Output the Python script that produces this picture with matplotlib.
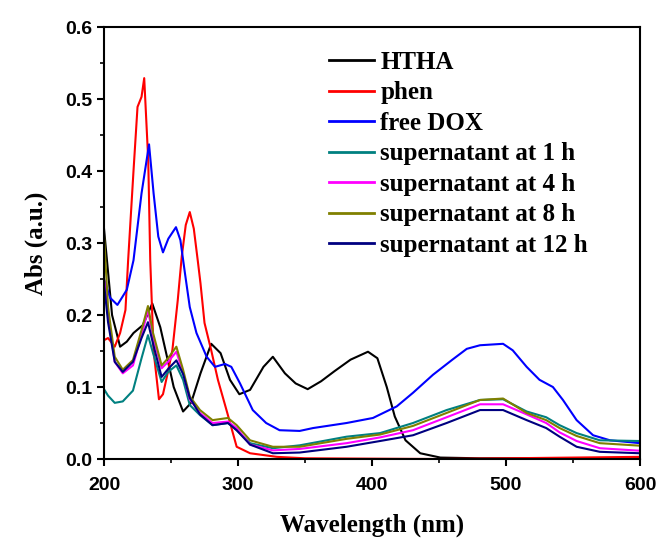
import matplotlib.pyplot as plt
from matplotlib.ticker import MultipleLocator

# values
htha_x = [200, 202, 206, 212, 217, 222, 229, 236, 242, 247, 252, 259, 265, 272, 280, 287, 294,
          301, 309, 319, 326, 335, 343, 352, 362, 372, 384, 397, 404, 411, 417, 425, 436, 451, 480, 600]
htha_y = [0.32, 0.28, 0.20, 0.156, 0.163, 0.175, 0.186, 0.216, 0.183, 0.142, 0.10, 0.066, 0.078, 0.119,
          0.160, 0.147, 0.110, 0.090, 0.096, 0.128, 0.142, 0.119, 0.105, 0.097, 0.108, 0.122, 0.138,
          0.149, 0.140, 0.100, 0.059, 0.026, 0.008, 0.002, 0.001, 0.001]

phen_x = [200, 203, 208, 212, 216, 218, 222, 225, 228, 230, 233, 234.5, 237, 241, 244, 247, 251, 255,
          258, 261, 264, 267, 270, 272, 275, 280, 285, 292, 299, 309, 329, 350, 450, 600]
phen_y = [0.165, 0.168, 0.156, 0.175, 0.207, 0.276, 0.40, 0.489, 0.503, 0.529, 0.415, 0.276, 0.15,
          0.083, 0.09, 0.115, 0.151, 0.22, 0.281, 0.325, 0.343, 0.32, 0.275, 0.244, 0.189, 0.151, 0.11,
          0.064, 0.017, 0.008, 0.003, 0.001, 0.0, 0.003]

dox_x = [200, 204.5, 210, 217, 222, 228, 233.6, 237, 240.5, 244, 248, 253.7, 257, 260.4, 264, 269, 276.6,
         282.8, 290.3, 295, 301.5, 311, 321, 331, 346, 356, 381, 400.7, 418.4, 430.6, 445.5, 460, 470.7,
         480.6, 497.8, 505, 515.4, 525, 535, 542.5, 552.7, 565, 577.6, 600]
dox_y = [0.25, 0.224, 0.214, 0.235, 0.276, 0.369, 0.437, 0.369, 0.309, 0.287, 0.306, 0.322, 0.304, 0.258,
         0.211, 0.175, 0.142, 0.128, 0.132, 0.128, 0.105, 0.068, 0.050, 0.040, 0.039, 0.043, 0.050, 0.057,
         0.073, 0.092, 0.117, 0.138, 0.153, 0.158, 0.160, 0.151, 0.128, 0.110, 0.100, 0.082, 0.054, 0.033,
         0.026, 0.022]

sup_x = [200, 203, 208, 214, 221.6, 228, 232.8, 236.6, 243, 247.8, 254, 259, 264, 271.6, 281, 292.5, 299,
         309, 326, 346, 381, 406, 430.6, 455.7, 480.6, 497.8, 515.4, 530, 540, 552.7, 570, 600]
sup1_y = [0.097, 0.088, 0.078, 0.080, 0.095, 0.140, 0.172, 0.147, 0.107, 0.121, 0.130, 0.110, 0.075, 0.061,
          0.047, 0.050, 0.040, 0.022, 0.015, 0.019, 0.031, 0.036, 0.050, 0.068, 0.082, 0.083, 0.066, 0.058,
          0.047, 0.036, 0.026, 0.025]
sup4_y = [0.25, 0.20, 0.135, 0.119, 0.130, 0.172, 0.207, 0.170, 0.126, 0.135, 0.149, 0.120, 0.083, 0.064,
          0.050, 0.052, 0.043, 0.020, 0.012, 0.014, 0.022, 0.030, 0.040, 0.058, 0.076, 0.076, 0.062, 0.050,
          0.037, 0.025, 0.015, 0.0115]
sup8_y = [0.31, 0.211, 0.142, 0.124, 0.1375, 0.179, 0.2125, 0.175, 0.130, 0.140, 0.156, 0.124, 0.087,
          0.068, 0.054, 0.057, 0.047, 0.026, 0.017, 0.017, 0.028, 0.034, 0.046, 0.064, 0.082, 0.084, 0.064,
          0.054, 0.043, 0.032, 0.022, 0.0185]
sup12_y = [0.244, 0.19, 0.135, 0.121, 0.135, 0.168, 0.190, 0.160, 0.114, 0.125, 0.137, 0.118, 0.085, 0.062,
           0.047, 0.050, 0.040, 0.020, 0.008, 0.009, 0.017, 0.025, 0.033, 0.050, 0.068, 0.068, 0.054, 0.043,
           0.031, 0.017, 0.010, 0.008]

fig = plt.figure(figsize=(6.6, 5.39), dpi=100)
ax = fig.add_axes([0.1576, 0.1484, 0.8121, 0.8015])

ax.plot(htha_x, htha_y, color='black', lw=1.5, label='HTHA')
ax.plot(phen_x, phen_y, color='#ff0000', lw=1.5, label='phen')
ax.plot(dox_x, dox_y, color='#0000ff', lw=1.5, label='free DOX')
ax.plot(sup_x, sup1_y, color='#008080', lw=1.5, label='supernatant at 1 h')
ax.plot(sup_x, sup4_y, color='#ff00ff', lw=1.5, label='supernatant at 4 h')
ax.plot(sup_x, sup8_y, color='#808000', lw=1.5, label='supernatant at 8 h')
ax.plot(sup_x, sup12_y, color='#000080', lw=1.5, label='supernatant at 12 h')

ax.set_xlim(200, 600)
ax.set_ylim(0, 0.6)
ax.xaxis.set_major_locator(MultipleLocator(100))
ax.xaxis.set_minor_locator(MultipleLocator(50))
ax.yaxis.set_major_locator(MultipleLocator(0.1))
ax.yaxis.set_minor_locator(MultipleLocator(0.05))
ax.yaxis.set_major_formatter(plt.FormatStrFormatter('%.1f'))
ax.tick_params(which='major', direction='out', length=5, width=1.5)
ax.tick_params(which='minor', direction='out', length=3, width=1.2)
ax.tick_params(axis='x', which='major', pad=8)
for lab in ax.get_xticklabels() + ax.get_yticklabels():
    lab.set_fontfamily('Liberation Sans')
    lab.set_fontweight('bold')
    lab.set_fontsize(14)
for sp in ax.spines.values():
    sp.set_linewidth(1.5)

ax.set_xlabel('Wavelength (nm)', family='Liberation Serif', weight='bold', fontsize=18, labelpad=14)
ax.set_ylabel('Abs (a.u.)', family='Liberation Serif', weight='bold', fontsize=18, labelpad=12)

leg = ax.legend(loc='upper left', bbox_to_anchor=(0.42, 0.945), frameon=False,
                prop={'family': 'Liberation Serif', 'weight': 'bold', 'size': 18},
                handlelength=1.8, handletextpad=0.25, labelspacing=0.3, borderpad=0,
                borderaxespad=0)
for line in leg.get_lines():
    line.set_linewidth(2)

fig.savefig('out.png', dpi=100)
